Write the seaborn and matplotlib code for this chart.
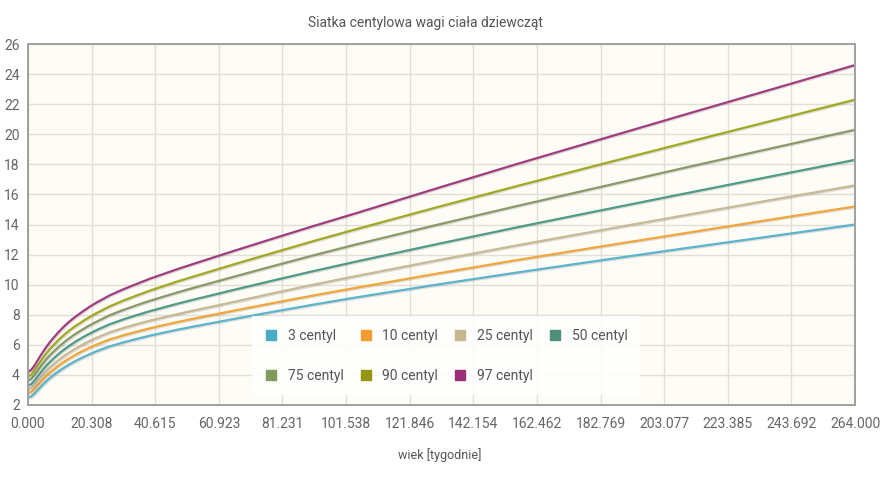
import numpy as np
import pandas as pd
import matplotlib
matplotlib.use("Agg")
import matplotlib.pyplot as plt
import matplotlib.patheffects as pe
from matplotlib.lines import Line2D
import seaborn as sns

title = "Siatka centylowa wagi ciała dziewcząt"
xlabel = "wiek [tygodnie]"

weeks = [0, 1, 2, 3, 4, 5, 6, 7, 8, 9, 10, 11, 12, 13, 15, 17.4, 19.5, 21.7, 26.1, 30.4, 34.8,
         39.1, 43.5, 47.8, 52.2, 65.2, 78.3, 91.3, 104.4, 130.4, 156.5, 182.6, 208.7, 234.8, 264]

p3 = [2.5, 2.56, 2.74, 2.97, 3.19, 3.41, 3.61, 3.79, 3.96, 4.12, 4.27, 4.41, 4.54, 4.67, 4.91,
      5.16, 5.36, 5.56, 5.9, 6.16, 6.4, 6.62, 6.82, 7.01, 7.19, 7.7, 8.2, 8.68, 9.14, 10.0,
      10.82, 11.61, 12.39, 13.15, 14.0]
p10 = [2.8, 2.86, 3.05, 3.29, 3.52, 3.75, 3.96, 4.15, 4.32, 4.49, 4.65, 4.8, 4.94, 5.07, 5.32,
       5.59, 5.8, 6.0, 6.36, 6.63, 6.88, 7.11, 7.32, 7.52, 7.71, 8.25, 8.78, 9.29, 9.78, 10.73,
       11.65, 12.53, 13.39, 14.25, 15.2]
p25 = [3.05, 3.12, 3.32, 3.57, 3.82, 4.06, 4.28, 4.49, 4.67, 4.85, 5.02, 5.18, 5.33, 5.47, 5.73,
       6.01, 6.24, 6.45, 6.83, 7.12, 7.38, 7.62, 7.84, 8.05, 8.25, 8.83, 9.43, 10.01, 10.56, 11.61,
       12.63, 13.61, 14.58, 15.54, 16.6]
p50 = [3.3, 3.38, 3.6, 3.87, 4.14, 4.4, 4.64, 4.86, 5.06, 5.25, 5.43, 5.6, 5.76, 5.91, 6.19,
       6.49, 6.73, 6.96, 7.37, 7.69, 7.98, 8.25, 8.5, 8.74, 8.97, 9.63, 10.28, 10.91, 11.52, 12.69,
       13.83, 14.93, 16.02, 17.1, 18.3]
p75 = [3.63, 3.73, 3.97, 4.25, 4.54, 4.81, 5.07, 5.3, 5.51, 5.71, 5.9, 6.08, 6.25, 6.41, 6.71,
       7.02, 7.28, 7.52, 7.97, 8.32, 8.64, 8.94, 9.22, 9.49, 9.75, 10.5, 11.24, 11.96, 12.66, 13.97,
       15.25, 16.49, 17.73, 18.95, 20.3]
p90 = [3.9, 4.01, 4.27, 4.58, 4.89, 5.19, 5.47, 5.72, 5.95, 6.17, 6.38, 6.57, 6.75, 6.92, 7.23,
       7.56, 7.83, 8.09, 8.56, 8.94, 9.29, 9.62, 9.92, 10.22, 10.5, 11.32, 12.12, 12.91, 13.67, 15.14,
       16.58, 17.99, 19.38, 20.76, 22.3]
p97 = [4.2, 4.33, 4.6, 4.94, 5.28, 5.6, 5.9, 6.18, 6.43, 6.67, 6.9, 7.12, 7.32, 7.51, 7.85,
       8.21, 8.51, 8.79, 9.29, 9.69, 10.06, 10.41, 10.73, 11.04, 11.34, 12.21, 13.07, 13.91, 14.73, 16.4,
       18.05, 19.65, 21.25, 22.83, 24.6]

series_names = ["3 centyl", "10 centyl", "25 centyl", "50 centyl", "75 centyl", "90 centyl", "97 centyl"]
series_values = [p3, p10, p25, p50, p75, p90, p97]
line_colors = ["#5ab4cc", "#f2a63a", "#c9b994", "#4f9a88", "#879a68", "#a2a820", "#a03c80"]
legend_colors = ["#4aabc6", "#f39c32", "#c6b78f", "#4e8f7a", "#7f9a5e", "#959712", "#9a2f77"]

x_ticks = [264 * i / 13 for i in range(14)]
y_ticks = list(range(2, 27, 2))

rows = []
for name, vals in zip(series_names, series_values):
    for w, v in zip(weeks, vals):
        rows.append({"wiek": w, "waga": v, "centyl": name})
df = pd.DataFrame(rows)

sns.set_style("white")
plt.rcParams["font.family"] = ["Roboto", "DejaVu Sans"]

fig = plt.figure(figsize=(8.8, 4.8), dpi=100)
ax = fig.add_axes([0.0318, 0.15625, 0.9398, 0.752])
ax.set_facecolor("#fdfcf6")

sns.lineplot(data=df, x="wiek", y="waga", hue="centyl", hue_order=series_names,
             palette=dict(zip(series_names, line_colors)), linewidth=1.6,
             legend=False, ax=ax)
for ln in ax.get_lines():
    ln.set_solid_joinstyle("round")
    ln.set_path_effects([pe.SimpleLineShadow(offset=(0.8, -0.8), alpha=0.12, shadow_color="black"), pe.Normal()])

ax.set_xlim(0, 264)
ax.set_ylim(2, 26)
ax.set_xticks(x_ticks)
ax.set_xticklabels([f"{t:.3f}" for t in x_ticks])
ax.set_yticks(y_ticks)
ax.grid(True, color="#e2dfd6", linewidth=1.0)
ax.set_axisbelow(True)
for s in ax.spines.values():
    s.set_color("#a0a0a0")
    s.set_linewidth(1.4)
ax.tick_params(axis="both", colors="#666666", labelsize=10, length=4, width=1, direction="out", pad=2)
ax.tick_params(axis="x", pad=5)
ax.set_xlabel("")
ax.set_ylabel("")

fig.text(0.483, 0.953, title, ha="center", va="center", fontsize=10, color="#555555")
fig.text(0.5, 0.052, xlabel, ha="center", va="center", fontsize=9, color="#555555")

handles = [Line2D([0], [0], marker="s", linestyle="none", markersize=7,
                  markerfacecolor=c, markeredgecolor=c) for c in legend_colors]
order = [0, 4, 1, 5, 2, 6, 3]
leg = ax.legend([handles[i] for i in order], [series_names[i] for i in order], ncol=4,
                loc="lower left", bbox_to_anchor=(0.262, 0.008), frameon=True, fontsize=10,
                labelspacing=1.85, columnspacing=1.1, handletextpad=0.7,
                borderpad=0.9, handlelength=1.0)
leg.get_frame().set_facecolor("white")
leg.get_frame().set_alpha(0.85)
leg.get_frame().set_edgecolor("none")
leg.get_frame().set_boxstyle("square", pad=0)
for t in leg.get_texts():
    t.set_color("#555555")

fig.savefig("out.png", dpi=100, facecolor="white")
